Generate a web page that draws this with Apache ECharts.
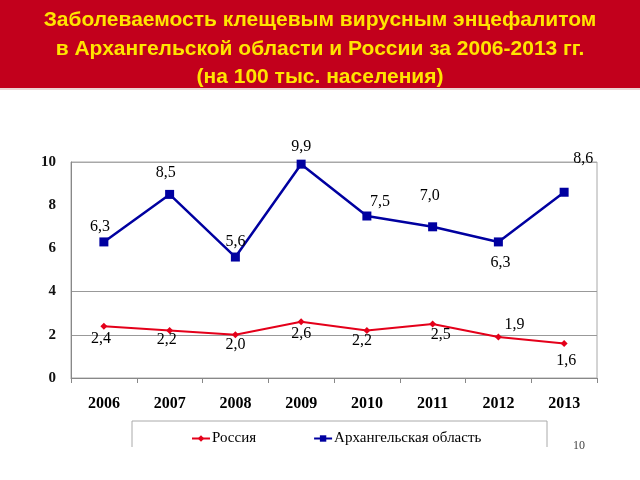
<!DOCTYPE html>
<html><head><meta charset="utf-8">
<script src="https://cdn.jsdelivr.net/npm/echarts@6/dist/echarts.min.js"></script>
<style>html,body{margin:0;padding:0;background:#fff}#c{width:640px;height:480px}</style>
</head><body><div id="c"></div>
<script>
var categories = ['2006','2007','2008','2009','2010','2011','2012','2013'];
var russia = [2.4, 2.2, 2.0, 2.6, 2.2, 2.5, 1.9, 1.6];
var arkhangelsk = [6.3, 8.5, 5.6, 9.9, 7.5, 7.0, 6.3, 8.6];
var yTicks = [0, 2, 4, 6, 8, 10];
var titleLines = ['Заболеваемость клещевым вирусным энцефалитом','в Архангельской области и России за 2006-2013 гг.','(на 100 тыс. населения)'];
// label offsets (style)
var russiaLabelOffsets = [[-3,13],[-3,9],[0,10],[0,12],[-5,10],[8,11],[16,-12],[2,17]];
var arkhLabelOffsets = [[-4,-15],[-4,-22],[0,-15],[0,-17],[13,-14],[-3,-31],[2,21],[19,-33]];

function fmt(v){ return v.toFixed(1).replace('.', ','); }
function build(vals, offs){
  return vals.map(function(v,i){
    return {value:v, label:{offset:offs[i]}};
  });
}
var chart = echarts.init(document.getElementById('c'));
var serif = '"Liberation Serif","Times New Roman",serif';
chart.setOption({
  animation:false,
  backgroundColor:'#fff',
  graphic:[
    {type:'rect', left:0, top:0, shape:{width:640,height:88}, style:{fill:'#C2001C'}, z:-1},
    {type:'rect', left:0, top:88, shape:{width:640,height:2}, style:{fill:'#ecd4d4'}, z:-1},
    {type:'text', x:320, y:20, style:{text:titleLines[0], fill:'#FFE400', font:'bold 21px "Liberation Sans", Arial, sans-serif', align:'center', verticalAlign:'middle'}},
    {type:'text', x:320, y:49, style:{text:titleLines[1], fill:'#FFE400', font:'bold 21px "Liberation Sans", Arial, sans-serif', align:'center', verticalAlign:'middle'}},
    {type:'text', x:320, y:77, style:{text:titleLines[2], fill:'#FFE400', font:'bold 21px "Liberation Sans", Arial, sans-serif', align:'center', verticalAlign:'middle'}},
    {type:'polyline', shape:{points:[[132,447],[132,421],[547,421],[547,447]]}, style:{stroke:'#aaaaaa', fill:null, lineWidth:1}},
    {type:'text', left:573, top:440, style:{text:'10', fill:'#444', font:'12px '+serif}}
  ],
  legend:{
    left:186, top:426, itemWidth:18, itemHeight:8, itemGap:57,
    textStyle:{fontFamily:serif, fontSize:15, color:'#000', padding:[0,0,0,-3]},
    data:['Россия','Архангельская область']
  },
  grid:{left:71, right:43, top:162, bottom:102, show:true, borderColor:'#a8a8a8', borderWidth:1},
  xAxis:{
    type:'category', data:categories, boundaryGap:true,
    axisLine:{lineStyle:{color:'#888', width:1}},
    axisTick:{show:true, length:5, lineStyle:{color:'#888'}},
    axisLabel:{fontFamily:serif, fontSize:16, fontWeight:'bold', color:'#000', margin:18}
  },
  yAxis:{
    type:'value', min:yTicks[0], max:yTicks[yTicks.length-1], interval:2,
    axisLine:{show:true, lineStyle:{color:'#888'}},
    axisTick:{show:false},
    axisLabel:{fontFamily:serif, fontSize:15, fontWeight:'bold', color:'#111', margin:15},
    splitLine:{show:true, lineStyle:{color:['#999','#999','#999','rgba(0,0,0,0)','rgba(0,0,0,0)','#a8a8a8'], width:1}}
  },
  series:[
    {name:'Россия', type:'line', data:build(russia, russiaLabelOffsets),
     symbol:'diamond', symbolSize:7, showAllSymbol:true,
     itemStyle:{color:'#E4001A'}, lineStyle:{color:'#E4001A', width:2},
     label:{show:true, position:'inside', formatter:function(p){return fmt(p.value);}, fontFamily:serif, fontSize:16, color:'#000'}
    },
    {name:'Архангельская область', type:'line', data:build(arkhangelsk, arkhLabelOffsets),
     symbol:'rect', symbolSize:9, showAllSymbol:true,
     itemStyle:{color:'#0000A0'}, lineStyle:{color:'#0000A0', width:2.5},
     label:{show:true, position:'inside', formatter:function(p){return fmt(p.value);}, fontFamily:serif, fontSize:16, color:'#000'}
    }
  ]
});
</script></body></html>
